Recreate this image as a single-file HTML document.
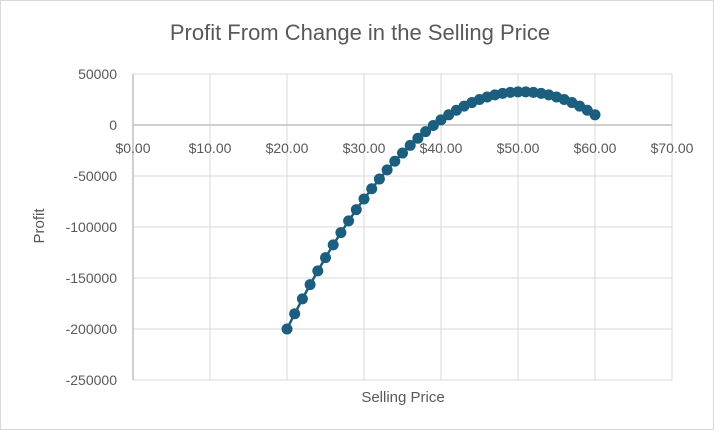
<!DOCTYPE html>
<html><head><meta charset="utf-8"><style>
body{margin:0;background:#fff;}
svg{display:block;font-family:"Liberation Sans",sans-serif;}
</style></head><body>
<svg id="chart" width="714" height="430">
<rect x="0.5" y="0.5" width="713" height="429" fill="#fff" stroke="#d9d9d9"/>
<text x="360" y="40" text-anchor="middle" font-size="22" fill="#595959">Profit From Change in the Selling Price</text>
<g id="grid"></g><g id="axes"></g><g id="series"></g>
<text x="403" y="402" text-anchor="middle" font-size="15" fill="#595959">Selling Price</text>
<text transform="translate(44,226) rotate(-90)" text-anchor="middle" font-size="15" fill="#595959">Profit</text>
</svg>
<script>
const prices=[20,21,22,23,24,25,26,27,28,29,30,31,32,33,34,35,36,37,38,39,40,41,42,43,44,45,46,47,48,49,50,51,52,53,54,55,56,57,58,59,60];
const profits=[-200000,-185000,-170500,-156500,-143000,-130000,-117500,-105500,-94000,-83000,-72500,-62500,-53000,-44000,-35500,-27500,-20000,-13000,-6500,-500,5000,10000,14500,18500,22000,25000,27500,29500,31000,32000,32500,32500,32000,31000,29500,27500,25000,22000,18500,14500,10000];
const xTicks=[0,10,20,30,40,50,60,70];
const xTickLabels=["$0.00","$10.00","$20.00","$30.00","$40.00","$50.00","$60.00","$70.00"];
const yTicks=[50000,0,-50000,-100000,-150000,-200000,-250000];
const yTickLabels=["50000","0","-50000","-100000","-150000","-200000","-250000"];
const NS="http://www.w3.org/2000/svg";
const X0=133,X1=672,Y0=74,Y1=380;
const xs=v=>X0+(v-0)/(70-0)*(X1-X0);
const ys=v=>Y0+(50000-v)/(300000)*(Y1-Y0);
function mk(tag,at,parent){const e=document.createElementNS(NS,tag);for(const k in at)e.setAttribute(k,at[k]);document.getElementById(parent).appendChild(e);return e;}
xTicks.forEach((t,i)=>{
 const l=mk('line',{x1:xs(t),x2:xs(t),y1:Y0,y2:Y1,stroke:'#d9d9d9','stroke-width':1},'grid');
 
 
 const tx=mk('text',{x:xs(t),y:ys(0)+28,'text-anchor':'middle','font-size':14,fill:'#595959'},'axes');
 tx.textContent=xTickLabels[i];
 
 
});
yTicks.forEach((t,i)=>{
 const l=mk('line',{x1:X0,x2:X1,y1:ys(t),y2:ys(t),stroke:t===0?'#bfbfbf':'#d9d9d9','stroke-width':t===0?1.5:1},'grid');
 
 
 const tx=mk('text',{x:117,y:ys(t)+5,'text-anchor':'end','font-size':14,fill:'#595959'},'axes');
 tx.textContent=yTickLabels[i];
 
 
});
const ax=mk('line',{x1:X0,x2:X0,y1:Y0,y2:Y1,stroke:'#bfbfbf','stroke-width':1.5},'grid');


const pl=mk('polyline',{points:prices.map((p,i)=>xs(p)+','+ys(profits[i])).join(' '),fill:'none',stroke:'#1b5e7d','stroke-width':2.5},'series');


prices.forEach((p,i)=>{
 const c=mk('circle',{cx:xs(p),cy:ys(profits[i]),r:5.5,fill:'#1b5e7d'},'series');
 
 
});
</script>
</body></html>
